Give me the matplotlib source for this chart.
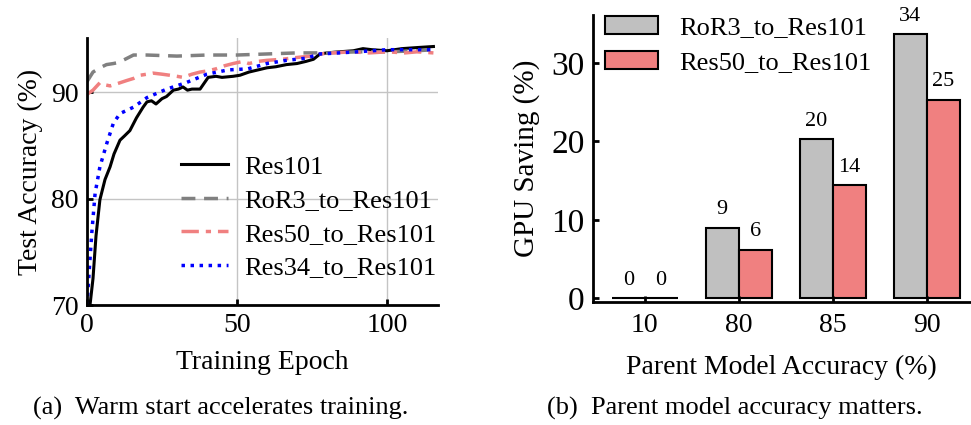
import matplotlib
matplotlib.use("Agg")
import matplotlib.pyplot as plt
import numpy as np

plt.rcParams['font.family'] = ['Liberation Serif', 'DejaVu Serif']
plt.rcParams['font.size'] = 20

# (a) test accuracy vs epoch
res101_x = [0, 1, 2, 3, 4.3, 6, 7.7, 9, 11, 12.5, 14.3, 16.5, 18.7, 20, 21.5, 23, 25, 26.5, 28.8,
            30.5, 32, 33.5, 35, 37.7, 40.4, 43, 45, 48.7, 51, 54, 57, 60, 63, 66.5, 70, 73, 75.5,
            77.7, 80, 84, 88.8, 92, 95, 100, 105, 110, 115.5]
res101_y = [70, 70, 72.5, 76.5, 79.9, 81.8, 83, 84.2, 85.5, 85.9, 86.4, 87.6, 88.6, 89.1, 89.2, 88.9,
            89.4, 89.6, 90.2, 90.3, 90.5, 90.2, 90.3, 90.3, 91.4, 91.5, 91.4, 91.5, 91.6, 91.9, 92.1,
            92.3, 92.4, 92.6, 92.7, 92.9, 93.1, 93.6, 93.7, 93.8, 93.9, 94.1, 94.0, 93.9, 94.1, 94.2, 94.3]

ror3_x = [0, 2, 4.3, 6.5, 8.8, 10.5, 12.7, 15.5, 20, 30, 40, 50, 60, 70, 80, 90, 100, 110, 115.5]
ror3_y = [91.0, 91.9, 92.3, 92.6, 92.7, 92.8, 93.1, 93.5, 93.5, 93.4, 93.5, 93.5, 93.6, 93.7, 93.7,
          93.8, 93.8, 93.9, 94.0]

res50_x = [0, 2, 4.3, 6, 7.7, 10, 13.2, 15.5, 17.7, 20, 22, 25, 27.6, 30, 32, 35, 37.7, 40, 43,
           46, 48.7, 52, 54, 57, 60, 65, 71, 75, 77.7, 82, 88, 94, 100, 106, 110, 115.5]
res50_y = [89.8, 90.2, 90.9, 90.7, 90.6, 90.8, 91.1, 91.3, 91.6, 91.7, 91.8, 91.7, 91.6, 91.5, 91.4,
           91.7, 91.9, 92.0, 92.2, 92.5, 92.7, 92.9, 92.7, 92.9, 93.0, 93.1, 93.3, 93.4, 93.6, 93.7,
           93.8, 93.7, 93.8, 93.7, 93.8, 93.7]

res34_x = [0, 0.8, 1.6, 2.7, 4.3, 6.6, 8.8, 11, 15.5, 20, 26.6, 33, 40, 47, 53.6, 60, 66.5, 73,
           77.7, 84, 90, 100, 108, 115.5]
res34_y = [70, 73.5, 76.8, 80.5, 83, 85.2, 87.1, 88, 88.6, 89.5, 90.3, 90.9, 91.7, 92.1, 92.2, 92.7,
           93.0, 93.2, 93.6, 93.7, 93.8, 94.0, 94.0, 94.0]

# (b) GPU saving
parent_acc = ['10', '80', '85', '90']
ror3_save = [0, 9.0, 20.3, 33.6]
res50_save = [0, 6.2, 14.4, 25.3]
ror3_lbl = ['0', '9', '20', '34']
res50_lbl = ['0', '6', '14', '25']

fig = plt.figure(figsize=(9.71, 4.25), dpi=100)
ax1 = fig.add_axes([0.0896, 0.282, 0.3614, 0.6286])
ax2 = fig.add_axes([0.6107, 0.289, 0.3883, 0.676])

# ---- left
ax1.grid(True, color='#c4c4c4', lw=1)
ax1.set_axisbelow(True)
ax1.plot(res101_x, res101_y, color='black', lw=2.2, label='Res101')
ax1.plot(ror3_x, ror3_y, color='gray', lw=2.5, ls=(0, (4, 2.5)), label='RoR3_to_Res101')
ax1.plot(res50_x, res50_y, color='lightcoral', lw=2.5, ls=(0, (5, 2, 1.5, 2)), label='Res50_to_Res101')
ax1.plot(res34_x, res34_y, color='blue', lw=2.5, ls=(0, (1, 1.6)), label='Res34_to_Res101')
ax1.set_xlim(0, 117)
ax1.set_ylim(70, 95.1)
ax1.set_xticks([0, 50, 100])
ax1.set_yticks([70, 80, 90])
ax1.set_xlabel('Training Epoch', labelpad=8)
ax1.set_ylabel('Test Accuracy (%)', labelpad=6)
ax1.legend(loc='upper left', bbox_to_anchor=(0.2, 0.65), frameon=False, handlelength=1.8,
           labelspacing=0.38, handletextpad=0.6, fontsize=19)

# ---- right
x = np.arange(len(parent_acc))
w = 0.35
b1 = ax2.bar(x - w / 2, ror3_save, w, color='silver', edgecolor='black', lw=1.5, label='RoR3_to_Res101')
b2 = ax2.bar(x + w / 2, res50_save, w, color='lightcoral', edgecolor='black', lw=1.5, label='Res50_to_Res101')
for bars, lbls in ((b1, ror3_lbl), (b2, res50_lbl)):
    for r, t in zip(bars, lbls):
        ax2.annotate(t, (r.get_x() + r.get_width() / 2, r.get_height()), xytext=(0, 6),
                     textcoords='offset points', ha='center', va='bottom', fontsize=16)
ax2.set_xticks(x)
ax2.set_xticklabels(parent_acc)
ax2.set_yticks([0, 10, 20, 30])
ax2.set_xlim(-0.55, 3.46)
ax2.set_ylim(-0.5, 36.1)
ax2.set_xlabel('Parent Model Accuracy (%)', labelpad=12)
ax2.set_ylabel('GPU Saving (%)', labelpad=8, fontsize=21)
ax2.legend(loc='upper left', bbox_to_anchor=(-0.03, 1.08), frameon=False, handlelength=2.0,
           handleheight=0.7, labelspacing=0.45, handletextpad=0.8, fontsize=19)

for ax in (ax1, ax2):
    for s in ('top', 'right'):
        ax.spines[s].set_visible(False)
    for s in ('left', 'bottom'):
        ax.spines[s].set_linewidth(2)
    ax.tick_params(direction='in', length=4, width=2, labelsize=20, pad=6)
ax2.tick_params(axis='y', labelsize=24)
ax2.tick_params(axis='x', pad=8)

fig.text(0.227, 0.025, '(a)  Warm start accelerates training.', ha='center', fontsize=19)
fig.text(0.757, 0.025, '(b)  Parent model accuracy matters.', ha='center', fontsize=19)

fig.savefig('out.png', dpi=100)
